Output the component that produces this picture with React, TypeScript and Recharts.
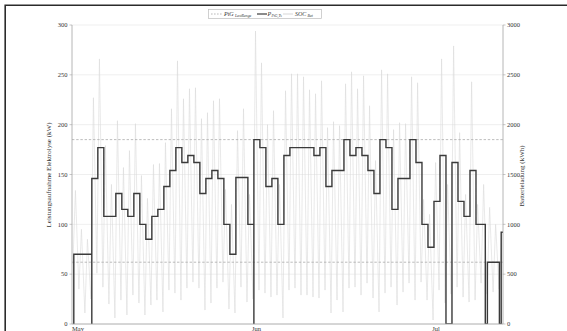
import React from 'react';
import { LineChart, Line, XAxis, YAxis, CartesianGrid, ReferenceLine } from 'recharts';

const W = 567;
const H = 340;

// x axis: days from start of May
const monthTicks = [0, 30, 60];
const monthLabels = ['May', 'Jun', 'Jul'];
const dayTicks = [
  0, 1, 2, 3, 4, 5, 6, 7, 8, 9, 10, 11, 12, 13, 14, 15, 16, 17, 18, 19, 20, 21, 22, 23,
  24, 25, 26, 27, 28, 29, 30, 31, 32, 33, 34, 35, 36, 37, 38, 39, 40, 41, 42, 43, 44, 45,
  46, 47, 48, 49, 50, 51, 52, 53, 54, 55, 56, 57, 58, 59, 60, 61, 62, 63, 64, 65, 66, 67,
  68, 69, 70, 71,
];
const xDomain = [0, 71.8];

const kwTicks = [0, 50, 100, 150, 200, 250, 300];
const kwhTicks = [0, 500, 1000, 1500, 2000, 2500, 3000];

// PtG load range (kW)
const lastRangeKW = [62, 185];

// P_PtG,Ts step breakpoints (day, kW)
const pDay = [
  0.3, 0.3, 3.3, 3.3, 4.3, 5.3, 7.3, 8.3, 9.3, 10.3, 11.3, 12.3, 13.3, 14.3, 15.3, 16.3,
  17.3, 18.3, 19.3, 20.3, 21.3, 22.3, 23.3, 24.3, 25.3, 26.3, 27.3, 29.3, 30.3, 30.3,
  31.3, 32.3, 33.3, 34.3, 35.3, 36.3, 40.3, 41.3, 42.3, 43.3, 45.3, 46.3, 47.3, 48.3,
  49.3, 50.3, 51.3, 52.3, 53.3, 54.3, 56.3, 57.3, 58.3, 59.3, 60.3, 61.3, 62.3, 63.3,
  64.3, 65.3, 66.3, 67.3, 68.85, 69.2, 71.2, 71.5, 71.8,
];
const pKW = [
  0, 70, 0, 146, 177, 108, 131, 115, 108, 131, 100, 85, 108, 115, 138, 154,
  177, 162, 169, 162, 131, 146, 154, 146, 100, 70, 147, 100, 0, 185,
  177, 138, 146, 100, 169, 177, 169, 177, 138, 154, 185, 169, 177, 169,
  154, 131, 185, 177, 115, 146, 185, 162, 100, 77, 123, 169, 0, 162,
  123, 108, 154, 100, 0, 62, 0, 92, 92,
];

// SOC_Bat daily low (morning) and peak (kWh)
const socLowKWh = [
  600, 350, 110, 250, 510, 370, 200, 60, 240, 90,
  290, 210, 90, 190, 240, 120, 340, 310, 240, 360,
  420, 360, 140, 210, 360, 420, 150, 110, 370, 220,
  250, 340, 310, 270, 290, 60, 340, 360, 290, 290,
  270, 260, 340, 110, 240, 120, 360, 370, 290, 410,
  260, 120, 310, 370, 190, 320, 410, 240, 420, 240,
  40, 340, 210, 300, 370, 270, 220, 240, 410, 300,
  320, 350,
];
const socPeakKWh = [
  1340, 950, 850, 2270, 2660, 1790, 1400, 2040, 1570, 1740,
  2010, 1490, 1260, 1600, 1610, 1820, 2160, 2640, 2260, 2360,
  2370, 2060, 2120, 2240, 2260, 1350, 1200, 1940, 2160, 1300,
  2940, 2620, 2000, 2140, 1400, 2340, 2510, 2510, 2480, 2350,
  2310, 2440, 1970, 2030, 1990, 2410, 2530, 2360, 2490, 2190,
  1640, 2550, 2510, 1950, 2020, 2010, 2480, 2420, 1250, 1100,
  1620, 2660, 1400, 2790, 1920, 1300, 2430, 1200, 1400, 1170,
  1000, 900,
];
const socLowOffset = 0.15;
const socPeakOffset = 0.57;

const pData = pDay.map((d, i) => ({ d, p: pKW[i] }));
const socData: { d: number; soc: number }[] = [];
socLowKWh.forEach((lo, i) => {
  socData.push({ d: i + socLowOffset, soc: lo });
  socData.push({ d: i + socPeakOffset, soc: socPeakKWh[i] });
});

const FONT = '"Liberation Serif", "DejaVu Serif", serif';
const AXIS = '#a3a3a3';
const TXT = '#333';

const Legend = () => (
  <g fontFamily={FONT} fill={TXT}>
    <rect x={208.5} y={9.5} width={113} height={9} fill="#fff" stroke="#bdbdbd" strokeWidth={0.7} />
    <line x1={211} y1={14} x2={222} y2={14} stroke="#a8a8a8" strokeWidth={0.8} strokeDasharray="1.6 1.4" />
    <text x={224} y={16.2} fontSize={6} fontStyle="italic">PtG</text>
    <text x={235} y={17.2} fontSize={3.8} fontStyle="italic">LastRange</text>
    <line x1={257} y1={14} x2={267} y2={14} stroke="#3c3c3c" strokeWidth={1.2} />
    <text x={267.5} y={16.2} fontSize={6} fontStyle="italic">P</text>
    <text x={271.5} y={17.2} fontSize={3.8} fontStyle="italic">PtG,Ts</text>
    <line x1={283} y1={14} x2={293} y2={14} stroke="#cdcdcd" strokeWidth={0.8} />
    <text x={295} y={16.2} fontSize={6} fontStyle="italic">SOC</text>
    <text x={307.5} y={17.2} fontSize={3.8} fontStyle="italic">Bat</text>
  </g>
);

export default function App() {
  return (
    <div style={{ position: 'absolute', left: 0, top: 0, width: W, height: 331, overflow: 'hidden', background: '#fff' }}>
      <LineChart width={W} height={H} margin={{ top: 25, right: 0, bottom: 0, left: 0 }}>
        <CartesianGrid xAxisId="main" yAxisId="left" vertical={false} stroke="#ebebeb" strokeWidth={0.8} />
        <XAxis
          xAxisId="main"
          type="number"
          dataKey="d"
          domain={xDomain}
          ticks={monthTicks}
          tickFormatter={(v: number) => monthLabels[monthTicks.indexOf(v)] ?? ''}
          height={16}
          tickSize={0}
          tickMargin={2}
          tickLine={false}
          axisLine={{ stroke: AXIS, strokeWidth: 0.8 }}
          tick={{ fontSize: 6.5, fontFamily: FONT, fill: TXT, textAnchor: 'start' }}
          allowDataOverflow
        />
        <XAxis
          xAxisId="bt"
          type="number"
          orientation="bottom"
          mirror
          height={0}
          domain={xDomain}
          ticks={dayTicks}
          tick={false}
          tickSize={2.5}
          axisLine={false}
          tickLine={{ stroke: AXIS, strokeWidth: 0.6 }}
          allowDataOverflow
        />
        <XAxis
          xAxisId="tt"
          type="number"
          orientation="top"
          mirror
          height={0}
          domain={xDomain}
          ticks={dayTicks}
          tick={false}
          tickSize={2.5}
          axisLine={{ stroke: AXIS, strokeWidth: 0.8 }}
          tickLine={{ stroke: AXIS, strokeWidth: 0.6 }}
          allowDataOverflow
        />
        <YAxis
          yAxisId="left"
          orientation="left"
          width={72}
          domain={[0, 300]}
          ticks={kwTicks}
          tickSize={2.5}
          tickMargin={2}
          axisLine={{ stroke: AXIS, strokeWidth: 0.8 }}
          tickLine={{ stroke: AXIS, strokeWidth: 0.6 }}
          tick={{ fontSize: 6.5, fontFamily: FONT, fill: TXT }}
          allowDataOverflow
        />
        <YAxis
          yAxisId="right"
          orientation="right"
          width={64}
          domain={[0, 3000]}
          ticks={kwhTicks}
          tickSize={2.5}
          tickMargin={1.5}
          axisLine={{ stroke: AXIS, strokeWidth: 0.8 }}
          tickLine={{ stroke: AXIS, strokeWidth: 0.6 }}
          tick={{ fontSize: 6.5, fontFamily: FONT, fill: TXT }}
          allowDataOverflow
        />
        <Line
          xAxisId="main"
          yAxisId="right"
          data={socData}
          dataKey="soc"
          type="linear"
          stroke="#dadada"
          strokeWidth={0.6}
          dot={false}
          activeDot={false}
          isAnimationActive={false}
        />
        {lastRangeKW.map((v) => (
          <ReferenceLine
            key={v}
            xAxisId="main"
            yAxisId="left"
            y={v}
            stroke="#ababab"
            strokeWidth={0.8}
            strokeDasharray="2.4 1.8"
          />
        ))}
        <Line
          xAxisId="main"
          yAxisId="left"
          data={pData}
          dataKey="p"
          type="stepAfter"
          stroke="#3a3a3a"
          strokeWidth={1.4}
          dot={false}
          activeDot={false}
          isAnimationActive={false}
        />
      </LineChart>
      <svg
        width={W}
        height={331}
        style={{ position: 'absolute', left: 0, top: 0, pointerEvents: 'none' }}
      >
        <path d="M5.2 331 L5.2 5.2 L567 5.2" fill="none" stroke="#2b2b2b" strokeWidth={1.6} />
        <Legend />
        <text
          transform="translate(51,175) rotate(-90)"
          textAnchor="middle"
          fontFamily={FONT}
          fontSize={7}
          fill={TXT}
        >
          Leistungsaufnahme Elektrolyse (kW)
        </text>
        <text
          transform="translate(524,176) rotate(-90)"
          textAnchor="middle"
          fontFamily={FONT}
          fontSize={7}
          fill={TXT}
        >
          Batterieladung (kWh)
        </text>
      </svg>
    </div>
  );
}
